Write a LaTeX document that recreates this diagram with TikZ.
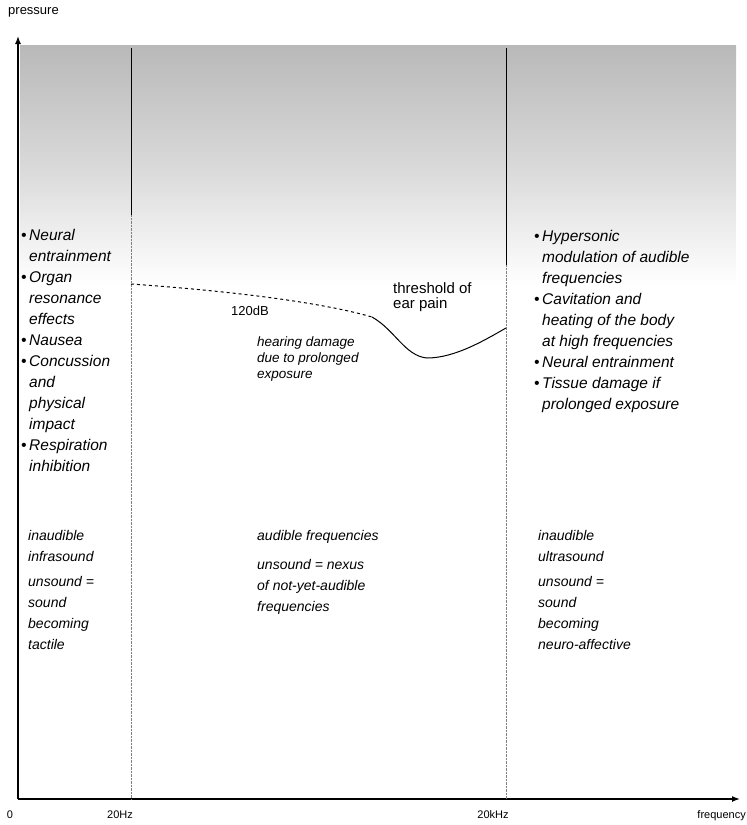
\documentclass[tikz,border=0pt]{standalone}
\usepackage{fontspec}
\setmainfont{Liberation Sans}
\usetikzlibrary{arrows.meta}
\newcommand{\bitem}{\makebox[8pt][l]{\textbullet}}
\newcommand{\bcont}{\hspace*{8pt}}

\begin{document}
\begin{tikzpicture}[x=1pt,y=-1pt]
\tikzset{itxt/.style={inner sep=0pt, font=\fontsize{14}{21}\selectfont\itshape, align=left, anchor=north west},
         btxt/.style={itxt, font=\fontsize{15.5}{21}\selectfont\itshape},
         utxt/.style={inner sep=0pt, font=\fontsize{11}{13}\selectfont},
         axis/.style={line width=1.4pt, -{Latex[length=8pt,width=6pt]}},
         bound/.style={line width=0.8pt}}
\useasboundingbox (0,0) rectangle (747,825);
% noise band at the top
\shade[top color=gray!55, bottom color=white, middle color=gray!30] (20,45) rectangle (736,285);
% axes
\coordinate (O) at (18,799);
\coordinate (Ytop) at (18,36);
\coordinate (Xend) at (740,799);
\draw[axis] (O) -- (Ytop);
\draw[axis] (O) -- (Xend);
% limits of hearing
\coordinate (L1) at (131,48);
\coordinate (L1m) at (131,215);
\coordinate (L1b) at (131,799);
\coordinate (L2) at (506,48);
\coordinate (L2m) at (506,265);
\coordinate (L2b) at (506,799);
\draw[bound] (L1) -- (L1m);
\draw[bound] (L2) -- (L2m);
\draw[densely dotted, gray] (L1m) -- (L1b);
\draw[densely dotted, gray] (L2m) -- (L2b);
% pain threshold
\coordinate (P1) at (131,284);
\coordinate (P2) at (372,317);
\coordinate (P3) at (427,358);
\coordinate (P4) at (506,328);
\draw[dashed, line width=1pt] (P1) .. controls (230,291) and (320,302) .. (P2);
\draw[line width=1pt] (P2) .. controls (395,330) and (405,356) .. (P3) .. controls (455,358) and (485,340) .. (P4);
% labels
\node[utxt, font=\fontsize{13}{15}\selectfont, anchor=west] (pres) at (8,12) {pressure};
\node[utxt] (zero) at (10,815) {0};
\node[utxt] (hz) at (120,815) {20Hz};
\node[utxt] (khz) at (493,815) {20kHz};
\node[utxt, anchor=east] (freq) at (746,816) {frequency};
\node[utxt, font=\fontsize{13}{15}\selectfont] (db) at (250,311) {120dB};
\node[utxt, font=\fontsize{15}{15.5}\selectfont, align=left, anchor=north west] (pain) at (393,282) {threshold of\\ear pain};
\node[itxt, font=\fontsize{13.5}{16}\selectfont\itshape] (dmg) at (257,337) {hearing damage\\due to prolonged\\exposure};
\node[btxt] (infra) at (21,229) {\bitem Neural\\\bcont entrainment\\\bitem Organ\\\bcont resonance\\\bcont effects\\\bitem Nausea\\\bitem Concussion\\\bcont and\\\bcont physical\\\bcont impact\\\bitem Respiration\\\bcont inhibition};
\node[btxt] (ultra) at (534,230) {\bitem Hypersonic\\\bcont modulation of audible\\\bcont frequencies\\\bitem Cavitation and\\\bcont heating of the body\\\bcont at high frequencies\\\bitem Neural entrainment\\\bitem Tissue damage if\\\bcont prolonged exposure};
\node[itxt] (inL) at (28,530) {inaudible\\infrasound\\[4pt]unsound =\\sound\\becoming\\tactile};
\node[itxt] (inM) at (257,530) {audible frequencies\\[8pt]unsound = nexus\\of not-yet-audible\\frequencies};
\node[itxt] (inR) at (538,530) {inaudible\\ultrasound\\[4pt]unsound =\\sound\\becoming\\neuro-affective};
\end{tikzpicture}
\end{document}
